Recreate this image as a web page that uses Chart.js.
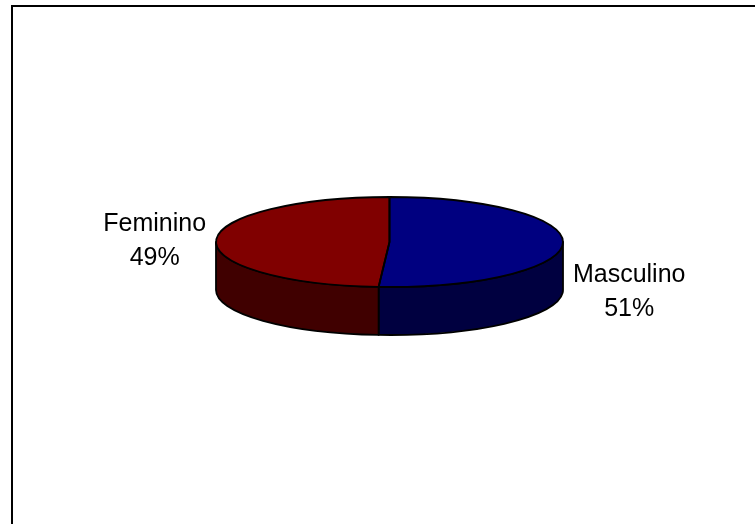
<!DOCTYPE html>
<html>
<head>
<meta charset="utf-8">
<script src="https://cdn.jsdelivr.net/npm/chart.js@4.4.1/dist/chart.umd.min.js"></script>
<style>
html, body { margin: 0; padding: 0; background: #fff; overflow: hidden; }
#wrap { position: relative; width: 755px; height: 524px; overflow: hidden; }
#frame { position: absolute; left: 11px; top: 5px; width: 800px; height: 600px; border: 2px solid #000; }
#chartPie { position: absolute; left: 0; top: 0; }
</style>
</head>
<body>
<div id="wrap">
  <div id="frame"></div>
  <canvas id="chartPie" width="755" height="524"></canvas>
</div>
<script>
var sexLabels = ['Masculino', 'Feminino'];
var sexValues = [51, 49];
var topColors = ['#000080', '#800000'];
var sideColors = ['#000040', '#400000'];

// look of the 3d disc
var tilt = 45 / 173.5;
var depth = 48;
var edgeWidth = 1.8;
var labelFont = '25px "Liberation Sans", Arial, sans-serif';

function arcProps(arc) {
    return arc.getProps(['x', 'y', 'startAngle', 'endAngle', 'outerRadius'], true);
}

const pie3d = {
    id: 'pie3d',
    beforeDatasetsDraw: function (chart) {
        const ctx = chart.ctx;
        const arcs = chart.getDatasetMeta(0).data;
        // side wall, only the front half of the disc can be seen
        arcs.forEach(function (arc, i) {
            const p = arcProps(arc);
            const a1 = Math.max(p.startAngle, 0);
            const a2 = Math.min(p.endAngle, Math.PI);
            if (a2 <= a1) return;
            const r = p.outerRadius;
            ctx.save();
            ctx.beginPath();
            ctx.ellipse(p.x, p.y, r, r * tilt, 0, a1, a2);
            ctx.ellipse(p.x, p.y + depth, r, r * tilt, 0, a2, a1, true);
            ctx.closePath();
            ctx.fillStyle = sideColors[i];
            ctx.fill();
            ctx.lineWidth = edgeWidth;
            ctx.lineJoin = 'round';
            ctx.strokeStyle = '#000';
            ctx.stroke();
            ctx.restore();
        });
    },
    beforeDatasetDraw: function (chart) {
        // squash the pie into an ellipse
        const ctx = chart.ctx;
        const p = arcProps(chart.getDatasetMeta(0).data[0]);
        ctx.save();
        ctx.translate(p.x, p.y);
        ctx.scale(1, tilt);
        ctx.translate(-p.x, -p.y);
    },
    afterDatasetDraw: function (chart) {
        chart.ctx.restore();
    },
    afterDatasetsDraw: function (chart) {
        const ctx = chart.ctx;
        const arcs = chart.getDatasetMeta(0).data;
        arcs.forEach(function (arc) {
            const p = arcProps(arc);
            const r = p.outerRadius;
            ctx.save();
            ctx.beginPath();
            ctx.moveTo(p.x, p.y);
            ctx.ellipse(p.x, p.y, r, r * tilt, 0, p.startAngle, p.endAngle);
            ctx.closePath();
            ctx.lineWidth = edgeWidth;
            ctx.lineJoin = 'round';
            ctx.strokeStyle = '#000';
            ctx.stroke();
            ctx.restore();
        });
    },
    afterDraw: function (chart) {
        const ctx = chart.ctx;
        const arcs = chart.getDatasetMeta(0).data;
        const total = sexValues.reduce(function (a, b) { return a + b; }, 0);
        ctx.save();
        ctx.font = labelFont;
        ctx.fillStyle = '#000';
        ctx.textAlign = 'center';
        ctx.textBaseline = 'middle';
        arcs.forEach(function (arc, i) {
            const p = arcProps(arc);
            const r = p.outerRadius;
            const mid = (p.startAngle + p.endAngle) / 2;
            const c = Math.cos(mid), s = Math.sin(mid);
            const lines = [sexLabels[i], Math.round(sexValues[i] / total * 100) + '%'];
            const w = Math.max(ctx.measureText(lines[0]).width, ctx.measureText(lines[1]).width);
            const lx = p.x + c * (r + 10);
            const ly = p.y + s * r * tilt + (s > 0 ? depth : 0) + 1;
            const bx = c < 0 ? lx - w / 2 : lx + w / 2;
            ctx.fillText(lines[0], bx, ly - 17);
            ctx.fillText(lines[1], bx, ly + 17);
        });
        ctx.restore();
    }
};

var pieChart = new Chart(document.getElementById('chartPie').getContext('2d'), {
    type: 'pie',
    data: {
        labels: sexLabels,
        datasets: [{
            data: sexValues,
            backgroundColor: topColors,
            borderWidth: 0,
            radius: 173.5,
            clip: false
        }]
    },
    plugins: [pie3d],
    options: {
        responsive: false,
        animation: false,
        events: [],
        layout: {
            padding: { left: 124, right: 100, top: 60, bottom: 100 }
        },
        plugins: {
            legend: { display: false },
            tooltip: { enabled: false }
        }
    }
});
</script>
</body>
</html>
